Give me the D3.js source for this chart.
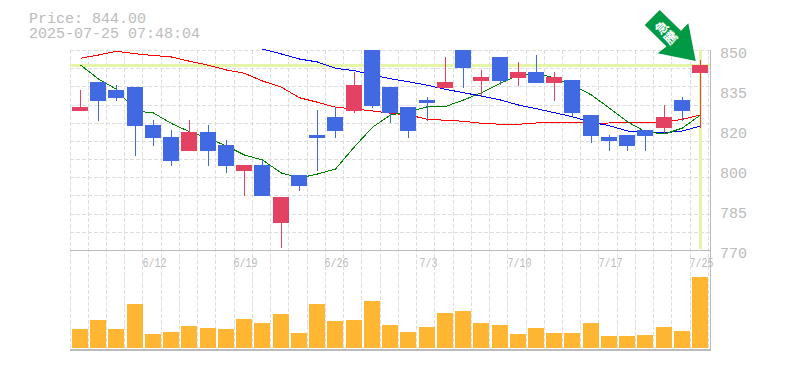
<!DOCTYPE html>
<html>
<head>
<meta charset="utf-8">
<script src="https://d3js.org/d3.v7.min.js"></script>
<style>
    html, body { margin: 0; padding: 0; background: #fff; }
    svg { display: block; }
    .info, .axis text { fill: #bbb; font-family: "Liberation Mono", monospace; }
    .grid line { stroke: #ddd; stroke-dasharray: 4,2; shape-rendering: crispEdges; }
    .frame line { stroke: #bbb; shape-rendering: crispEdges; }
    .ma { fill: none; stroke-width: 1; shape-rendering: crispEdges; }
</style>
</head>
<body>
<div id="chart"></div>
<script>
const dates = ["6/6", "6/9", "6/10", "6/11", "6/12", "6/13", "6/16", "6/17", "6/18", "6/19", "6/20", "6/23",
    "6/24", "6/25", "6/26", "6/27", "6/30", "7/1", "7/2", "7/3", "7/4", "7/7", "7/8", "7/9", "7/10", "7/11",
    "7/14", "7/15", "7/16", "7/17", "7/18", "7/22", "7/23", "7/24", "7/25"];
const dateTicks = ["6/12", "6/19", "6/26", "7/3", "7/10", "7/17", "7/25"];

const opens = [825.6, 837.2, 834, 835.2, 820, 815.2, 809.6, 817.2, 812, 801.6, 804, 780.8, 800, 816, 823.2, 825.6, 850, 835.2,
    827.2, 830, 834.8, 850, 837.6, 847.2, 838.8, 841.2, 836.8, 838, 824, 815.2, 816, 818, 818.8, 830, 840.8];
const closes = [827.2, 829.6, 830.8, 819.6, 814.8, 805.6, 817.2, 809.6, 803.6, 804, 791.6, 791.2, 795.6, 814.8, 817.6, 836, 827.6, 824.8,
    817.6, 828.8, 837.2, 842.8, 839.2, 837.6, 841.2, 836.8, 839.2, 824.8, 815.6, 813.6, 811.6, 815.6, 823.2, 825.6, 844];
const highs = [834, 837.2, 836, 835.2, 822, 818, 822, 820, 814, 804, 806, 791.2, 800, 826, 827.2, 841.2, 850, 835.2,
    827.2, 831.2, 847.2, 850, 842, 847.2, 845.2, 848, 841.2, 838, 824, 816, 816, 818, 828, 831.2, 846];
const lows = [825.6, 821.7, 829.6, 807.6, 811.6, 803.6, 809.6, 803.6, 800.8, 791.6, 791.6, 770.8, 793.6, 801.6, 814.8, 824.8, 826.8, 820.8,
    814.8, 821.6, 834.8, 834.8, 831.6, 836, 835.6, 836.8, 829.6, 823.6, 812.8, 809.6, 809.6, 809.6, 816.8, 821.6, 818.8];
const volumes = [19, 28, 19, 44, 14, 16, 22, 20, 19, 29, 25, 34, 15, 44, 27, 28, 47, 23,
    16, 21, 35, 37, 25, 23, 14, 20, 15, 15, 25, 12, 12, 13, 21, 17, 71];

const maShort = [844, 838.4, 834.3, 825.6, 824.8, 820.6, 817.3, 814.7, 811.6, 808, 806, 800.8, 798.8, 800.4, 802.4, 811.3, 819.1, 824,
    825.3, 827.3, 827.4, 830, 832.9, 836.7, 840, 840.7, 838.8, 836, 832, 826.7, 821.3, 817.3, 816.4, 818.8, 824];
const maMid = [846.7, 848, 849.5, 848.5, 847.8, 847.2, 845.5, 843.9, 842, 840.7, 837.6, 835.1, 830.9, 829.1, 827.1, 826.4, 825.6, 824.7,
    824, 822.3, 821.9, 821.5, 820.7, 820.3, 820.3, 820.8, 821.1, 821.1, 820.7, 820.8, 821.1, 821.1, 821.1, 822.3, 824];
const maLong = [null, null, null, null, null, null, null, null, null, null, 850.4, 848.4, 846.4, 845.2, 842.7, 841.7, 840, 838.5,
    837.3, 835.9, 834.3, 832.9, 831.6, 830, 828, 826.5, 824.9, 823.3, 821.1, 819.7, 817.6, 817.1, 816.9, 817.6, 819.6];

const priceNow = 844;
const priceTicks = [850, 834, 818, 802, 786, 770];
const priceLabels = ["850", "835", "820", "800", "785", "770"];
const infoLines = ["Price: 844.00", "2025-07-25 07:48:04"];
const arrowLabel = ["急", "騰"];

const upColor = "#e34262", downColor = "#4169e1", volColor = "#ffb733", bandColor = "#e4f5a8";

const width = 785, height = 370;
const svg = d3.select("#chart").append("svg")
    .attr("width", width)
    .attr("height", height);

// scales
const x = d3.scaleBand().domain(dates).range([70, 708.4]);
const y = d3.scaleLinear().domain([770, 850]).range([250, 50]);
const yVol = d3.scaleLinear().domain([0, 100]).range([348, 248]);

// bars snap to whole pixels, the wick sits in the middle of the bar
const barX = (d) => Math.round(x(d) + 2);
const candleX = (d) => barX(d) + 8.5;

// grid
const grid = svg.append("g").attr("class", "grid");
grid.selectAll(".gx").data(dates).enter().append("line")
    .attr("x1", (d) => Math.floor(x(d)) + 0.5).attr("x2", (d) => Math.floor(x(d)) + 0.5)
    .attr("y1", 50).attr("y2", 350);
grid.append("line").attr("x1", 708.5).attr("x2", 708.5).attr("y1", 50).attr("y2", 350);
grid.selectAll(".gy").data(d3.range(11)).enter().append("line")
    .attr("x1", 70).attr("x2", 710)
    .attr("y1", (d) => 50.5 + d * 200 / 11)
    .attr("y2", (d) => 50.5 + d * 200 / 11);

// current price highlight
svg.append("rect")
    .attr("x", 70).attr("width", 640)
    .attr("y", y(priceNow) - 1).attr("height", 3)
    .attr("fill", bandColor);
svg.append("rect")
    .attr("x", candleX(dates[dates.length - 1]) - 1.5).attr("width", 3)
    .attr("y", 50).attr("height", 199)
    .attr("fill", bandColor);

// moving averages
const line = d3.line()
    .defined((d) => d !== null)
    .x((d, i) => candleX(dates[i]))
    .y((d) => y(d));
[[maMid, "#ff0000"], [maLong, "#0000ff"], [maShort, "#008000"]].forEach(([values, color]) => {
    svg.append("path")
        .datum(values)
        .attr("class", "ma")
        .attr("stroke", color)
        .attr("d", line);
});

// candles
const candleColor = (i) => closes[i] >= opens[i] ? upColor : downColor;
const candles = svg.append("g").attr("shape-rendering", "crispEdges");
candles.selectAll(".wick").data(dates).enter().append("line")
    .attr("x1", (d) => candleX(d)).attr("x2", (d) => candleX(d))
    .attr("y1", (d, i) => y(highs[i]))
    .attr("y2", (d, i) => y(lows[i]))
    .attr("stroke", (d, i) => candleColor(i));
candles.selectAll(".body").data(dates).enter().append("rect")
    .attr("x", (d) => barX(d))
    .attr("width", 16)
    .attr("y", (d, i) => y(Math.max(opens[i], closes[i])))
    .attr("height", (d, i) => Math.abs(y(opens[i]) - y(closes[i])))
    .attr("fill", (d, i) => candleColor(i));

// volume
svg.append("g").attr("shape-rendering", "crispEdges")
    .selectAll("rect").data(dates).enter().append("rect")
    .attr("x", (d) => barX(d))
    .attr("width", 16)
    .attr("y", (d, i) => yVol(volumes[i]))
    .attr("height", (d, i) => yVol(0) - yVol(volumes[i]))
    .attr("fill", volColor);

// frame
const frame = svg.append("g").attr("class", "frame");
frame.append("line").attr("x1", 70).attr("x2", 710).attr("y1", 250.5).attr("y2", 250.5);
frame.append("line").attr("x1", 70).attr("x2", 710).attr("y1", 349.5).attr("y2", 349.5);
frame.append("line").attr("x1", 70).attr("x2", 710).attr("y1", 350.5).attr("y2", 350.5);
frame.append("line").attr("x1", 710.5).attr("x2", 710.5).attr("y1", 50).attr("y2", 351);

// axes
const yAxis = svg.append("g")
    .attr("class", "axis")
    .attr("transform", "translate(710,0)")
    .call(d3.axisRight(y).tickValues(priceTicks).tickFormat((d, i) => priceLabels[i]).tickSize(0).tickPadding(10));
yAxis.select(".domain").remove();
yAxis.selectAll("text").attr("font-size", 15).attr("dy", 7);

const xAxis = svg.append("g")
    .attr("class", "axis")
    .attr("transform", "translate(0,250)")
    .call(d3.axisBottom(x).tickValues(dateTicks).tickSize(0).tickPadding(8));
xAxis.select(".domain").remove();
xAxis.selectAll(".tick").attr("transform", (d) => "translate(" + (candleX(d) + 1) + ",0)");
// the labels are narrow and tall, so squeeze a bigger font to 6px per character
xAxis.selectAll("text")
    .attr("font-size", 13)
    .attr("dy", 8.5)
    .attr("textLength", (d) => d.length * 6)
    .attr("lengthAdjust", "spacingAndGlyphs");

// price and time
svg.selectAll(".info").data(infoLines).enter().append("text")
    .attr("class", "info")
    .attr("x", 29)
    .attr("y", (d, i) => 23 + i * 15)
    .attr("font-size", 15)
    .text((d) => d);

// arrow
svg.append("polygon")
    .attr("points", "659.7,10 644.7,25 666.5,46.5 657.7,53.3 695.7,61 688.3,23.3 681,30.7")
    .attr("fill", "#009944");
svg.selectAll(".arrow-label").data(arrowLabel).enter().append("text")
    .attr("class", "arrow-label")
    .attr("text-anchor", "middle")
    .attr("transform", (d, i) => "translate(" + (665 + i * 9) + "," + (31 + i * 10) + ") rotate(-45)")
    .attr("font-family", "'Noto Sans CJK JP'")
    .attr("font-weight", "bold")
    .attr("font-size", 13)
    .attr("fill", "#fff")
    .text((d) => d);
</script>
</body>
</html>
